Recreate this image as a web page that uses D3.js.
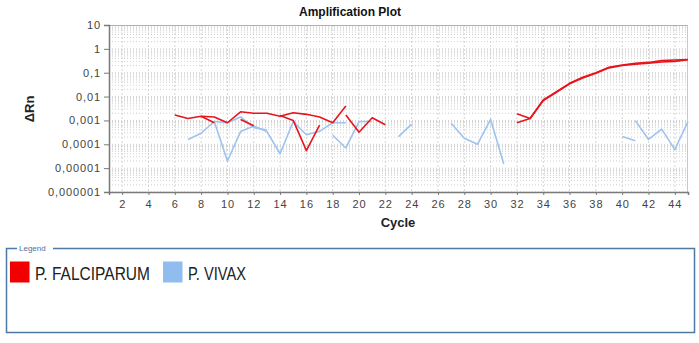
<!DOCTYPE html>
<html>
<head>
<meta charset="utf-8">
<script src="https://cdn.jsdelivr.net/npm/d3@7"></script>
<style>
  html, body { margin: 0; padding: 0; background: #fff; }
  svg { display: block; }
  text { font-family: Arial, "Liberation Sans", sans-serif; }
</style>
</head>
<body>
<svg id="chart" width="699" height="343"></svg>
<script>
// ΔRn per cycle for each well; each run starts at the cycle given next to it.
const pfRun1 = [0.0017, 0.0012, 0.0015, 0.0014, 0.0008, 0.0023, 0.0020, 0.0020, 0.0015, 0.0021, 0.0018, 0.0014, 0.0008, 0.0040]; // from cycle 6
const pfRun2 = [0.0015, 0.0008];                 // from cycle 8
const pfRun3 = [0.0011, 0.0006];                 // from cycle 11
const pfRun4 = [0.0016, 0.0010, 0.000054, 0.00064]; // from cycle 14
const pfRun5 = [0.0017, 0.00032, 0.0013, 0.00066];  // from cycle 19
const pfRun6 = [0.0019, 0.0012, 0.0072, 0.016, 0.036, 0.064, 0.10, 0.17, 0.21, 0.25, 0.27, 0.32, 0.34, 0.36]; // from cycle 32
const pfRun7 = [0.0008, 0.0012, 0.0068, 0.015, 0.034, 0.060, 0.095, 0.16, 0.20, 0.23, 0.25, 0.28, 0.30, 0.35]; // from cycle 32

const pvRun1 = [0.00016, 0.00029, 0.0009, 0.00002, 0.00034, 0.00059, 0.00034, 0.00004, 0.0009, 0.00025, 0.00035, 0.0008, 0.0008]; // from cycle 7
const pvRun2 = [0.0009, 0.0008, 0.0014, 0.0005, 0.0004]; // from cycle 9
const pvRun3 = [0.00024, 0.00007, 0.0009, 0.0009];      // from cycle 18
const pvRun4 = [0.00021, 0.0007];                       // from cycle 23
const pvRun5 = [0.00076, 0.00018, 0.0001, 0.0011, 0.000015]; // from cycle 27
const pvRun6 = [0.00021, 0.00014];                      // from cycle 40
const pvRun7 = [0.00098, 0.00016, 0.00043, 0.00006, 0.0009]; // from cycle 41

const pfStarts = [6, 8, 11, 14, 19, 32, 32];
const pvStarts = [7, 9, 18, 23, 27, 40, 41];

const xTicks = d3.range(2, 45, 2);
const yTicks = [1e-6, 1e-5, 1e-4, 1e-3, 1e-2, 1e-1, 1, 10];
const yTickLabels = ["0,000001", "0,00001", "0,0001", "0,001", "0,01", "0,1", "1", "10"];

const seriesNames = ["P. FALCIPARUM", "P. VIVAX"];
const seriesColors = ["#e8141b", "#9dc3ee"];
const swatchColors = ["#f20000", "#8fbdf0"];

const svg = d3.select("#chart");
const x = d3.scaleLinear().domain([1, 45]).range([109, 688]);
const y = d3.scaleLog().domain([1e-6, 10]).range([192, 25]);

// title
svg.append("text")
  .attr("x", 350).attr("y", 16)
  .attr("text-anchor", "middle")
  .attr("font-size", 12).attr("font-weight", "bold").attr("fill", "#111")
  .text("Amplification Plot");

// grid: dotted log minor lines, dashed verticals at even cycles
const grid = svg.append("g");
const minorVals = [];
for (let e = -6; e <= 0; e++) {
  for (let m = 1; m <= 9; m++) minorVals.push(m * Math.pow(10, e));
}
grid.selectAll("line.h").data(minorVals).join("line")
  .attr("x1", x(1)).attr("x2", x(45))
  .attr("y1", d => y(d)).attr("y2", d => y(d))
  .attr("stroke", "#cfcfcf").attr("stroke-width", 1)
  .attr("stroke-dasharray", "1,2");
grid.selectAll("line.v").data(xTicks).join("line")
  .attr("x1", d => x(d)).attr("x2", d => x(d))
  .attr("y1", y(10)).attr("y2", y(1e-6))
  .attr("stroke", "#d4d4d4").attr("stroke-width", 1)
  .attr("stroke-dasharray", "2,2");

// frame
svg.append("line").attr("x1", x(1)).attr("x2", x(45)).attr("y1", y(10) + 0.5).attr("y2", y(10) + 0.5)
  .attr("stroke", "#b0b0b0");
svg.append("line").attr("x1", x(45) - 0.5).attr("x2", x(45) - 0.5).attr("y1", y(10)).attr("y2", y(1e-6))
  .attr("stroke", "#c8c8c8");

// axes
const yAxis = svg.append("g")
  .attr("transform", `translate(${x(1)},0)`)
  .call(d3.axisLeft(y).tickValues(yTicks).tickSize(5).tickPadding(3)
    .tickFormat((d, i) => yTickLabels[i]));
const xAxis = svg.append("g")
  .attr("transform", `translate(0,${y(1e-6)})`)
  .call(d3.axisBottom(x).tickValues(xTicks).tickSize(3).tickPadding(5)
    .tickFormat(d3.format("d")));
[yAxis, xAxis].forEach(a => {
  a.select(".domain").attr("stroke", "#7a7a7a").attr("stroke-width", 1.5);
  a.selectAll(".tick line").attr("stroke", "#7a7a7a");
  a.selectAll(".tick text").attr("font-family", "Arial, 'Liberation Sans', sans-serif")
    .attr("font-size", 11).attr("fill", "#444").attr("letter-spacing", 0.9);
});

// axis titles
svg.append("text")
  .attr("transform", "translate(34,109) rotate(-90)")
  .attr("text-anchor", "middle")
  .attr("font-size", 13).attr("font-weight", "bold").attr("fill", "#222")
  .text("ΔRn");
svg.append("text")
  .attr("x", 398).attr("y", 227)
  .attr("text-anchor", "middle")
  .attr("font-size", 13).attr("font-weight", "bold").attr("fill", "#222")
  .text("Cycle");

// amplification curves
const line = d3.line().x(d => x(d[0])).y(d => y(d[1]));
const toPoints = (start, vals) => vals.map((v, i) => [start + i, v]);
const pvData = [pvRun1, pvRun2, pvRun3, pvRun4, pvRun5, pvRun6, pvRun7].map((r, i) => toPoints(pvStarts[i], r));
const pfData = [pfRun1, pfRun2, pfRun3, pfRun4, pfRun5, pfRun6, pfRun7].map((r, i) => toPoints(pfStarts[i], r));

const plot = svg.append("g");
plot.selectAll("path.pv").data(pvData).join("path")
  .attr("d", line).attr("fill", "none")
  .attr("stroke", seriesColors[1]).attr("stroke-width", 1.6).attr("stroke-linejoin", "round");
plot.selectAll("path.pf").data(pfData).join("path")
  .attr("d", line).attr("fill", "none")
  .attr("stroke", seriesColors[0]).attr("stroke-width", 1.6).attr("stroke-linejoin", "round");

// legend box
const lg = svg.append("g");
lg.append("rect")
  .attr("x", 6.5).attr("y", 248.5).attr("width", 688).attr("height", 84)
  .attr("fill", "none").attr("stroke", "#4e78a6").attr("stroke-width", 1.5);
lg.append("rect").attr("x", 17).attr("y", 244).attr("width", 36).attr("height", 8).attr("fill", "#fff");
lg.append("text")
  .attr("x", 19).attr("y", 251)
  .attr("font-size", 8).attr("fill", "#4e6f9c")
  .text("Legend");

const itemX = [10, 163];
const textW = [115, 58];
seriesNames.forEach((name, i) => {
  lg.append("rect")
    .attr("x", itemX[i]).attr("y", 261.5).attr("width", 19.5).attr("height", 21)
    .attr("fill", swatchColors[i]);
  lg.append("text")
    .attr("x", itemX[i] + 25).attr("y", 280)
    .attr("font-size", 19).attr("fill", "#222")
    .attr("textLength", textW[i]).attr("lengthAdjust", "spacingAndGlyphs")
    .text(name);
});
</script>
</body>
</html>
